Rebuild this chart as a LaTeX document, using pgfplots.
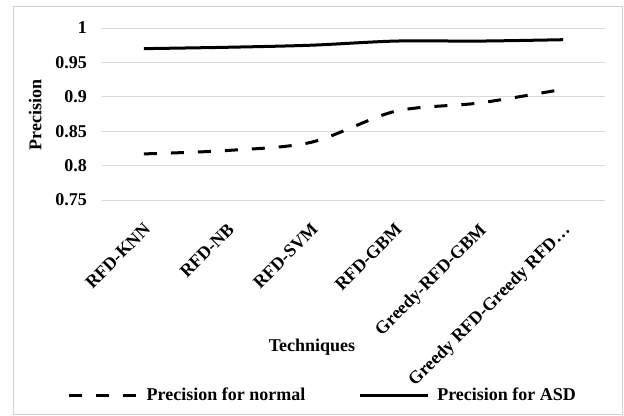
\documentclass[border=0pt]{standalone}
\usepackage{fontspec}
\setmainfont{Liberation Serif}
\usepackage{pgfplots}
\pgfplotsset{compat=1.18}
\definecolor{gridgray}{RGB}{217,217,217}
\definecolor{framegray}{RGB}{210,210,210}
\begin{document}
\begin{tikzpicture}[font=\fontsize{18bp}{21bp}\selectfont\bfseries]
\useasboundingbox (0,0) rectangle (624bp,416bp);
\draw[framegray, line width=1bp] (13bp,1.5bp) rectangle (622bp,409bp);
\begin{axis}[
  at={(102bp,216bp)}, anchor=south west,
  scale only axis, width=503bp, height=172bp,
  xmin=0.5, xmax=6.5, ymin=0.75, ymax=1,
  ytick={0.75,0.8,0.85,0.9,0.95,1},
  yticklabels={0.75,0.8,0.85,0.9,0.95,1},
  xtick={1,2,3,4,5,6},
  xticklabels={RFD-KNN,RFD-NB,RFD-SVM,RFD-GBM,Greedy-RFD-GBM,Greedy RFD-Greedy RFD\ldots},
  every tick label/.append style={font=\fontsize{18bp}{21bp}\selectfont\bfseries},
  xticklabel style={inner sep=0pt, xshift=-1bp, yshift=-22bp, rotate=45, anchor=north east},
  yticklabel style={inner sep=0pt, xshift=-15bp, anchor=east},
  axis line style={draw=none},
  major tick length=0pt,
  ymajorgrids, grid style={gridgray, line width=1bp},
  xlabel={Techniques},
  xlabel style={at={(axis description cs:0.4175,-0.855)}, anchor=center},
  ylabel={Precision},
  ylabel style={at={(axis description cs:-0.133,0.494)}, anchor=center},
  legend columns=2,
  legend style={at={(0.437,-1.134)}, anchor=center, draw=none, fill=none,
    column sep=0pt,
    /tikz/every odd column/.append style={column sep=8bp},
    /tikz/every even column/.append style={column sep=53bp},
    nodes={inner sep=0pt, font=\fontsize{18bp}{21bp}\selectfont\bfseries}},
  legend image code/.code={\draw[#1] (0bp,0bp) -- (68bp,0bp);},
]
\addplot[black, line width=3bp, dash pattern=on 13bp off 14bp, smooth, tension=0.5]
  coordinates {(1,0.817) (2,0.822) (3,0.834) (4,0.879) (5,0.891) (6,0.911)};
\addlegendentry{Precision for normal}
\addplot[black, line width=3bp, smooth, tension=0.5]
  coordinates {(1,0.970) (2,0.972) (3,0.975) (4,0.981) (5,0.981) (6,0.983)};
\addlegendentry{Precision for ASD}
\end{axis}
\end{tikzpicture}
\end{document}
